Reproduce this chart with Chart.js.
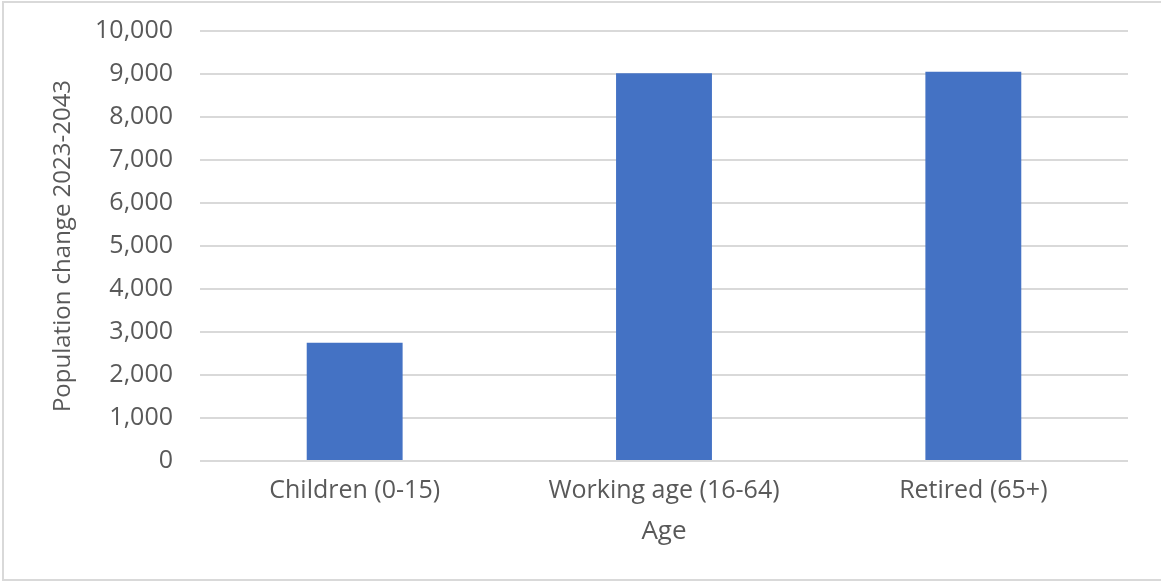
<!DOCTYPE html>
<html>
<head>
<meta charset="utf-8">
<title>Population change by age</title>
<script src="https://cdn.jsdelivr.net/npm/chart.js@4/dist/chart.umd.min.js"></script>
<style>
  body { margin: 0; background: #fff; }
  #wrap { position: relative; width: 1161px; height: 581px; }
  #frame {
    position: absolute; left: 2px; top: 1px; width: 1170px; height: 576px;
    border: 2px solid #d9d9d9; border-right: none; pointer-events: none;
  }
</style>
</head>
<body>
<div id="wrap">
  <canvas id="ageChart" width="1161" height="581"></canvas>
  <div id="frame"></div>
</div>
<script>
// Cambio de población por grupo de edad
const categories = ['Children (0-15)', 'Working age (16-64)', 'Retired (65+)'];
const populationChange = [2750, 9020, 9050];
const yTicks = [0, 1000, 2000, 3000, 4000, 5000, 6000, 7000, 8000, 9000, 10000];

const grey = '#595959';
const gridGrey = '#d9d9d9';

new Chart(document.getElementById('ageChart').getContext('2d'), {
  type: 'bar',
  data: {
    labels: categories,
    datasets: [{
      label: 'Population change 2023-2043',
      data: populationChange,
      backgroundColor: '#4472c4',
      categoryPercentage: 1,
      barPercentage: 0.31
    }]
  },
  options: {
    responsive: false,
    animation: false,
    layout: { padding: { left: 40, right: 33, top: 31, bottom: 10 } },
    plugins: { legend: { display: false }, tooltip: { enabled: false } },
    scales: {
      x: {
        afterFit: (scale) => { scale.height = 110; },
        grid: { display: false, drawTicks: false },
        border: { display: false },
        ticks: { color: grey, padding: 15, font: { family: 'Open Sans', size: 25 } },
        title: {
          display: true, text: 'Age', color: grey,
          font: { family: 'Open Sans', size: 26 },
          padding: { top: 0, bottom: 24 }
        }
      },
      y: {
        min: 0,
        max: 10000,
        afterBuildTicks: (scale) => { scale.ticks = yTicks.map(v => ({ value: v })); },
        // ancho fijo y sin margen extra arriba/abajo para que el área quede en su sitio
        afterFit: (scale) => { scale.width = 160; scale.paddingTop = 0; scale.paddingBottom = 0; },
        grid: { color: gridGrey, lineWidth: 2, drawTicks: false },
        border: { display: false },
        ticks: {
          color: grey, padding: 27,
          font: { family: 'Open Sans', size: 25 },
          callback: (v) => v.toLocaleString('en-US')
        },
        title: {
          display: true, text: 'Population change 2023-2043', color: grey,
          font: { family: 'Open Sans', size: 24 },
          padding: { top: 9 }
        }
      }
    }
  }
});
</script>
</body>
</html>
